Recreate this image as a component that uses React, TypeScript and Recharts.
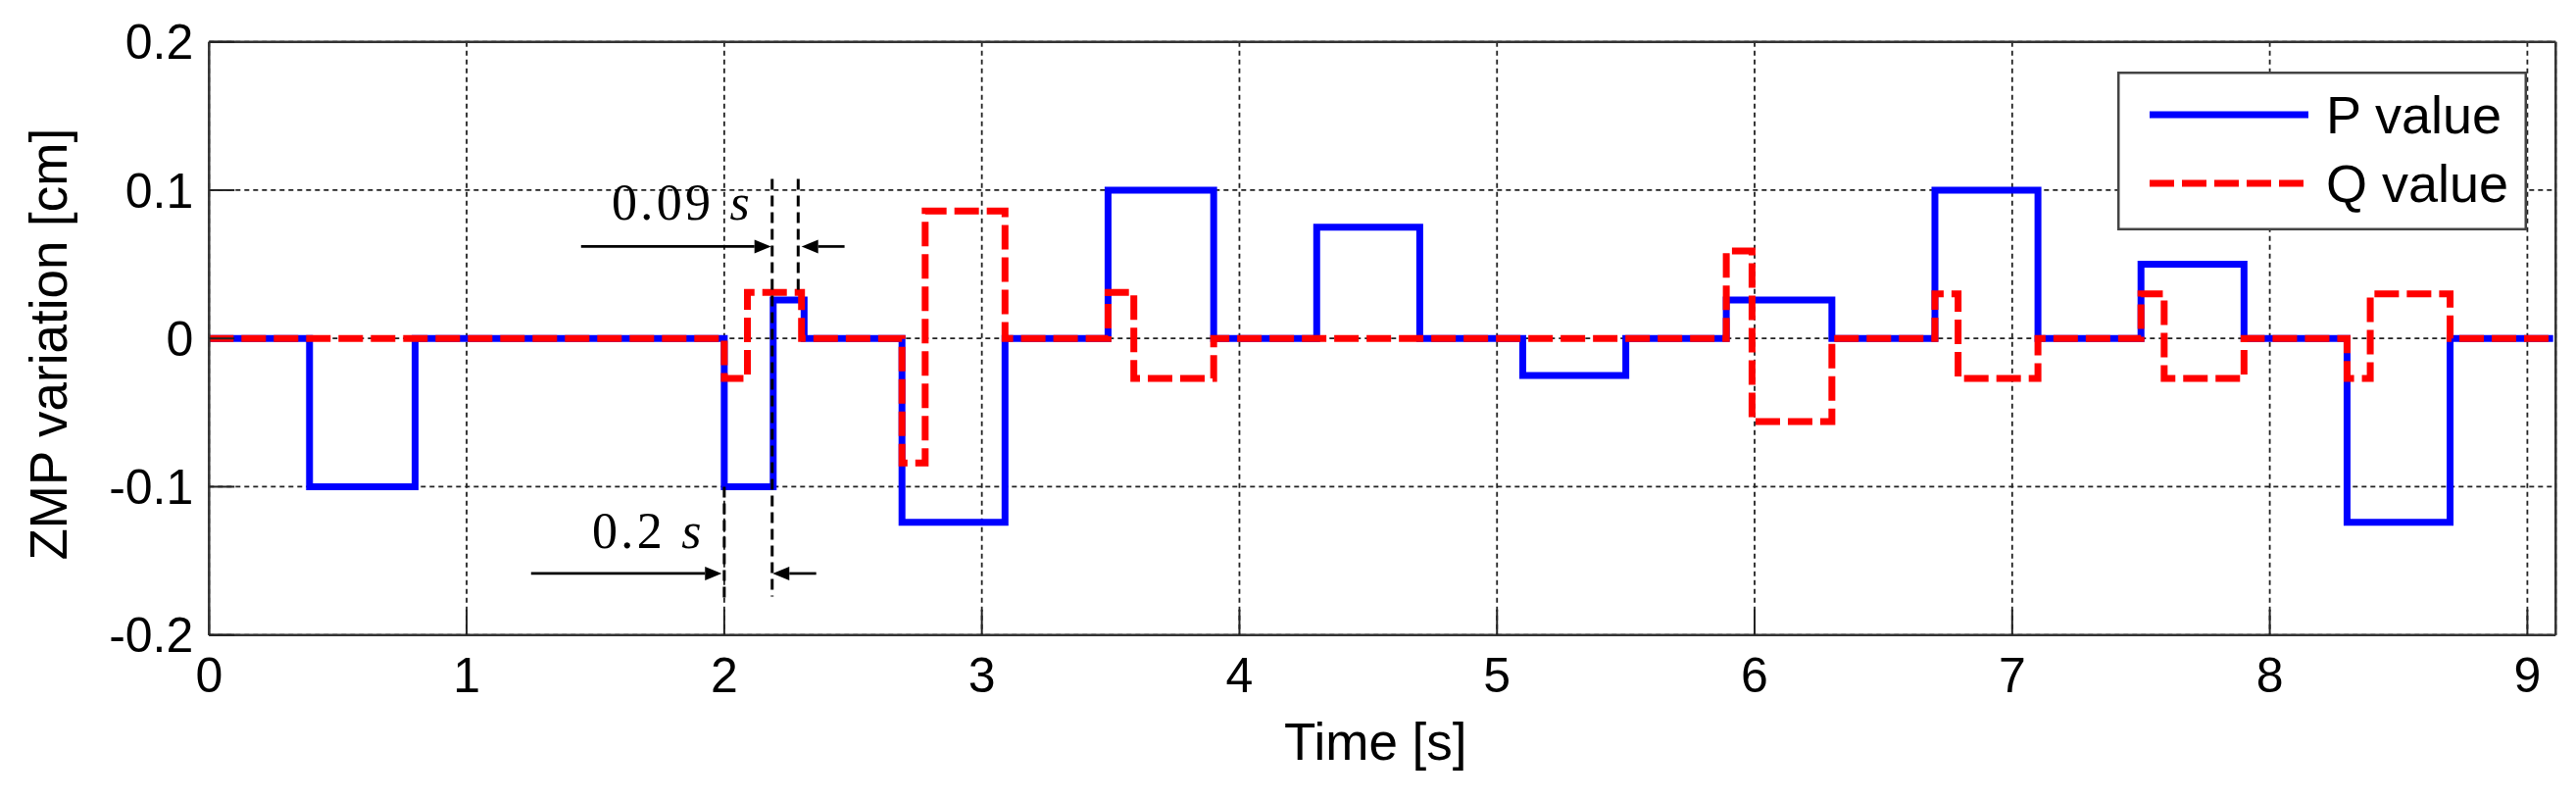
import {
  LineChart,
  Line,
  XAxis,
  YAxis,
  CartesianGrid,
  Legend,
  ReferenceLine,
  ReferenceDot,
} from "recharts";

// axes
const X_TICKS = [0, 1, 2, 3, 4, 5, 6, 7, 8, 9];
const Y_TICKS = [-0.2, -0.1, 0, 0.1, 0.2];
const X_DOMAIN = [0, 9.11];
const Y_DOMAIN = [-0.2, 0.2];

// P value: change times [s] and the level held from each time on [cm]
const P_TIMES = [0, 0.39, 0.8, 2.0, 2.19, 2.31, 2.69, 3.09, 3.49, 3.9, 4.3, 4.7, 5.1, 5.5, 5.89, 6.3, 6.7, 7.1, 7.5, 7.9, 8.3, 8.7, 9.1];
const P_VALUES = [0, -0.1, 0, -0.1, 0.026, 0, -0.124, 0, 0.1, 0, 0.075, 0, -0.025, 0, 0.026, 0, 0.1, 0, 0.05, 0, -0.124, 0, 0];

// Q value
const Q_TIMES = [0, 2.0, 2.09, 2.3, 2.69, 2.78, 3.09, 3.49, 3.59, 3.9, 5.89, 5.99, 6.3, 6.7, 6.79, 7.1, 7.5, 7.59, 7.9, 8.3, 8.39, 8.7, 9.1];
const Q_VALUES = [0, -0.027, 0.031, 0, -0.084, 0.086, 0, 0.031, -0.027, 0, 0.059, -0.056, 0, 0.03, -0.027, 0, 0.03, -0.027, 0, -0.027, 0.03, 0, 0];

// annotation: dashed guides
const GUIDE_X = [2.0, 2.186, 2.287];
const GUIDE_TOP = [-0.1, 0.1075, 0.1075];
const GUIDE_BOTTOM = [-0.178, -0.174, 0.0315];

// annotation: arrows
const ARROW_FROM = [1.444, 2.467, 1.25, 2.357];
const ARROW_TO = [2.182, 2.3, 1.99, 2.188];
const ARROW_Y = [0.062, 0.062, -0.1585, -0.1585];

// annotation: labels
const NOTE_TEXT = ["0.09", "0.2"];
const NOTE_X = [1.563, 1.487];
const NOTE_Y = [0.08, -0.1415];

const pData = P_TIMES.map((t, i) => ({ t, v: P_VALUES[i] }));
const qData = Q_TIMES.map((t, i) => ({ t, v: Q_VALUES[i] }));

const SANS = '"Liberation Sans", Arial, Helvetica, sans-serif';
const SERIF = '"Liberation Serif", "Times New Roman", serif';
const AXIS_LINE = { stroke: "#333", strokeWidth: 2.5 };
const TICK_LINE = { stroke: "#222", strokeWidth: 2 };
const TICK_FONT = { fontSize: 50, fill: "#000", fontFamily: SANS };

function Arrow(props: any) {
  const { x1, y1, x2, y2 } = props;
  const a = Math.atan2(y2 - y1, x2 - x1);
  const len = 17;
  const half = 7;
  const bx = x2 - len * Math.cos(a);
  const by = y2 - len * Math.sin(a);
  const px = -Math.sin(a) * half;
  const py = Math.cos(a) * half;
  return (
    <g>
      <line x1={x1} y1={y1} x2={bx} y2={by} stroke="#000" strokeWidth={2.7} />
      <polygon points={`${x2},${y2} ${bx + px},${by + py} ${bx - px},${by - py}`} fill="#000" />
    </g>
  );
}

function Note({ cx, cy, text }: any) {
  return (
    <text x={cx} y={cy} fontFamily={SERIF} fontSize={52} letterSpacing={3.3} fill="#000">
      {text}{" "}
      <tspan fontStyle="italic">s</tspan>
    </text>
  );
}

function XTitle({ viewBox }: any) {
  const { x, y, width } = viewBox;
  return (
    <text x={x + width / 2 - 7} y={y + 127} textAnchor="middle" fontFamily={SANS} fontSize={53} fill="#000">
      Time [s]
    </text>
  );
}

function YTitle({ viewBox }: any) {
  const { x, y, height } = viewBox;
  const cx = x + 60.5;
  const cy = y + height / 2 + 6;
  return (
    <text
      x={cx}
      y={cy}
      transform={`rotate(-90, ${cx}, ${cy})`}
      textAnchor="middle"
      fontFamily={SANS}
      fontSize={53}
      fill="#000"
    >
      ZMP variation [cm]
    </text>
  );
}

function LegendBox({ payload }: any) {
  const items = payload ?? [];
  return (
    <svg width={418} height={162} style={{ display: "block" }}>
      <rect x={1.25} y={1.25} width={415.5} height={159.5} fill="#fff" stroke="#444" strokeWidth={2.5} />
      {items.map((it: any, i: number) => {
        const cy = 44 + i * 70;
        const dash = it.payload?.strokeDasharray ?? (i === 1 ? "25 8" : undefined);
        return (
          <g key={i}>
            <line x1={33} x2={195} y1={cy} y2={cy} stroke={it.color} strokeWidth={7} strokeDasharray={dash} />
            <text x={213} y={cy + 19} fontFamily={SANS} fontSize={54} fill="#000">
              {it.value}
            </text>
          </g>
        );
      })}
    </svg>
  );
}

export default function App() {
  return (
    <div style={{ width: 2612, height: 800, background: "#fff" }}>
      <LineChart
        width={2612}
        height={800}
        margin={{ top: 33.7, right: 11.7, bottom: 0, left: 0 }}
        style={{ fontFamily: SANS }}
      >
        <CartesianGrid stroke="#222" strokeWidth={1.8} strokeDasharray="5 4" />
        <XAxis
          dataKey="t"
          type="number"
          domain={X_DOMAIN}
          ticks={X_TICKS}
          interval={0}
          allowDataOverflow
          height={160.3}
          tickSize={-26}
          tickMargin={48.3}
          tick={TICK_FONT}
          axisLine={AXIS_LINE}
          tickLine={TICK_LINE}
          label={(p: any) => <XTitle {...p} />}
        />
        <XAxis
          xAxisId="top"
          orientation="top"
          type="number"
          domain={X_DOMAIN}
          ticks={X_TICKS}
          interval={0}
          allowDataOverflow
          height={1}
          tick={false}
          tickSize={-26}
          axisLine={AXIS_LINE}
          tickLine={TICK_LINE}
        />
        <YAxis
          type="number"
          domain={Y_DOMAIN}
          ticks={Y_TICKS}
          interval={0}
          allowDataOverflow
          width={205.3}
          tickSize={-26}
          tickMargin={42}
          tick={TICK_FONT}
          axisLine={AXIS_LINE}
          tickLine={TICK_LINE}
          label={(p: any) => <YTitle {...p} />}
        />
        <YAxis
          yAxisId="right"
          orientation="right"
          type="number"
          domain={Y_DOMAIN}
          ticks={Y_TICKS}
          interval={0}
          allowDataOverflow
          width={1}
          tick={false}
          tickSize={-26}
          axisLine={AXIS_LINE}
          tickLine={TICK_LINE}
        />
        <Line
          data={pData}
          dataKey="v"
          name="P value"
          type="stepAfter"
          stroke="#0000ff"
          strokeWidth={7}
          dot={false}
          activeDot={false}
          isAnimationActive={false}
        />
        <Line
          data={qData}
          dataKey="v"
          name="Q value"
          type="stepAfter"
          stroke="#ff0000"
          strokeWidth={7}
          strokeDasharray="25 8"
          dot={false}
          activeDot={false}
          isAnimationActive={false}
        />
        {GUIDE_X.map((x, i) => (
          <ReferenceLine
            key={`g${i}`}
            segment={[
              { x, y: GUIDE_TOP[i] },
              { x, y: GUIDE_BOTTOM[i] },
            ]}
            stroke="#000"
            strokeWidth={3}
            strokeDasharray="11 6"
          />
        ))}
        {ARROW_FROM.map((x, i) => (
          <ReferenceLine
            key={`a${i}`}
            segment={[
              { x, y: ARROW_Y[i] },
              { x: ARROW_TO[i], y: ARROW_Y[i] },
            ]}
            shape={(p: any) => <Arrow {...p} />}
          />
        ))}
        {NOTE_TEXT.map((text, i) => (
          <ReferenceDot
            key={`n${i}`}
            x={NOTE_X[i]}
            y={NOTE_Y[i]}
            r={0}
            shape={(p: any) => <Note cx={p.cx} cy={p.cy} text={text} />}
          />
        ))}
        <Legend
          layout="vertical"
          align="center"
          verticalAlign="middle"
          content={(p: any) => <LegendBox {...p} />}
          wrapperStyle={{ left: 2152, top: 64.7, width: 418, height: 162 }}
        />
      </LineChart>
    </div>
  );
}
